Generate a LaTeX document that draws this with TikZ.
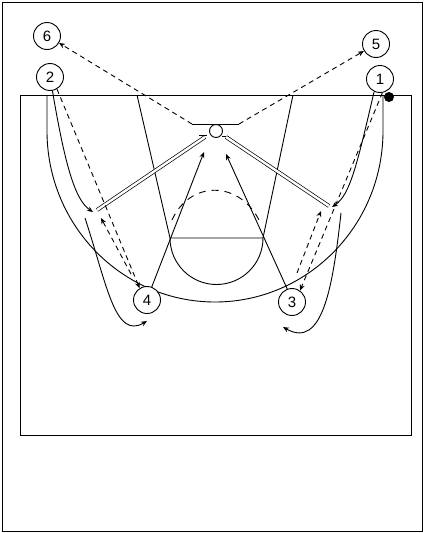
\documentclass[tikz,border=0pt]{standalone}
\usepackage{fontspec}
\setmainfont{Liberation Sans}
\usetikzlibrary{arrows.meta,backgrounds}
\begin{document}
\begin{tikzpicture}[x=1pt,y=-1pt,
  line width=0.9pt,
  player/.style={circle,draw,fill=white,minimum size=27pt,inner sep=0pt,
    font=\fontsize{15}{15}\selectfont},
  tip/.style={-{Stealth[length=6pt,width=5pt]}},
  pass/.style={dash pattern=on 5pt off 4pt,-{Stealth[length=6pt,width=5pt]}},
  dbl/.style={double,double distance=2.4pt,line width=0.7pt},
]
\useasboundingbox (0,0) rectangle (424,533);

% players
\node[player] (p6) at (47,36) {6};
\node[player] (p2) at (50,77) {2};
\node[player] (p5) at (376,44) {5};
\node[player] (p1) at (380,79) {1};
\node[player] (p4) at (147,300) {4};
\node[player] (p3) at (292,302) {3};
% ball
\node[circle,fill,minimum size=10pt,inner sep=0pt] (ball) at (389,97) {};

\begin{scope}[on background layer]
\begin{scope}[line width=0.9pt]
\draw (2,2) rectangle (422,531);
% court
\draw (20,95) rectangle (411,435);
% lane and free throw
\coordinate (laneTL) at (137,95);
\coordinate (laneTR) at (293,95);
\coordinate (ftL) at (170,238);
\coordinate (ftR) at (263,238);
\draw (laneTL) -- (ftL) -- (ftR) -- (laneTR);
\draw (ftL) arc[start angle=180,end angle=0,radius=46.5];
% three point line
\draw (47,95) -- (47,131) arc[start angle=180,end angle=0,x radius=168,y radius=171] -- (383,95);
% basket
\coordinate (bbL) at (192,124);
\coordinate (bbR) at (239,124);
\draw (bbL) -- (bbR);
\draw (199,135) -- (207,135);
\draw (222,136) -- (229,136);

% waypoints
\coordinate (a2) at (93,212);
\coordinate (a1) at (332,207);
\coordinate (c2) at (85,218);
\coordinate (c1) at (341,213);
\coordinate (e2) at (147,321);
\coordinate (e1) at (283,327);
\coordinate (b4) at (204,152);
\coordinate (b3) at (226,154);

% cuts to the basket
\draw[tip] (p4.70) -- (b4);
\draw[tip] (p3.110) -- (b3);
% passes out to 6 and 5
\draw[pass] (bbL) -- (p6.-30);
\draw[pass] (bbR) -- (p5.-150);
% double lines
\draw[dbl] (205,137) -- (97,210);
\draw[dbl] (226,137) -- (329,206);
% wing cuts
\draw[tip] (p2.-80) .. controls (65,165) and (75,200) .. (a2);
\draw[tip] (p1.-115) .. controls (357,165) and (350,195) .. (a1);
% passes to 4 and 3, and back
\draw[pass] (p2.-60) -- (p4.122);
\draw[pass] (131,274) -- (101,218);
\draw[pass] (p1.-80) -- (p3.55);
\draw[pass] (297,273) -- (321,211);
% final cuts
\draw[tip] (c2) .. controls (107,285) and (115,340) .. (e2);
\draw[tip] (c1) .. controls (333,285) and (323,350) .. (e1);
% dashed arc in the lane
\draw[dash pattern=on 7pt off 6pt] (172,220) .. controls (190,180) and (240,180) .. (260,222);
\end{scope}
\end{scope}
% rim drawn over the lines
\node[circle,draw,fill=white,minimum size=13pt,inner sep=0pt] (rim) at (216,131) {};
\end{tikzpicture}
\end{document}
